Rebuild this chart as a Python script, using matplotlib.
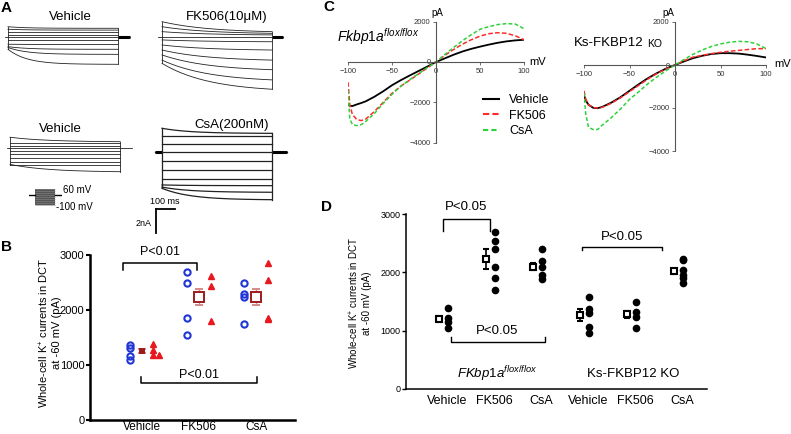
import numpy as np
import matplotlib
matplotlib.use('Agg')
import matplotlib.pyplot as plt
from matplotlib.lines import Line2D

plt.rcParams['font.family'] = ['Liberation Sans', 'DejaVu Sans']
plt.rcParams['mathtext.fontset'] = 'custom'
plt.rcParams['mathtext.rm'] = 'Liberation Sans'
plt.rcParams['mathtext.it'] = 'Liberation Sans:italic'
plt.rcParams['mathtext.bf'] = 'Liberation Sans:bold'

# ---- panel A: current traces (nA), value at step start / step end
veh1_start = [0.88, 0.67, 0.42, 0.19, -0.25, -0.58, -0.78, -0.85, -1.0]
veh1_end = [0.75, 0.6, 0.42, 0.19, -0.25, -0.6, -1.0, -1.42, -2.25]
fk_start = [1.3, 0.88, 0.47, -0.22, -0.64, -1.06, -1.47, -1.9, -2.17]
fk_end = [0.47, 0.33, 0.2, -0.37, -1.06, -1.9, -2.7, -3.55, -4.33]
veh2_start = [0.87, 0.37, 0.17, -0.28, -0.56, -0.89, -1.17, -1.44, -1.39]
veh2_end = [0.5, 0.37, 0.17, -0.28, -0.56, -0.89, -1.17, -1.44, -2.0]
csa_start = [2.0, 1.4, 0.7, -0.7, -1.44, -2.2, -2.72, -2.9, -3.0]
csa_end = [1.58, 1.4, 0.7, -0.7, -1.44, -2.2, -2.78, -3.33, -3.95]
step_voltages = [-100, -80, -60, -40, -20, 0, 20, 40, 60]

# ---- panel B
b_groups = ['Vehicle', 'FK506', 'CsA']
b_blue = [[1370, 1310, 1160, 1100], [2690, 2490, 1855, 1545], [2490, 2300, 2230, 1750]]
b_red = [[1380, 1270, 1180, 1190], [2620, 2440, 1800], [2850, 2545, 1850, 1830]]
b_mean = [1255, 2236, 2240]
b_sem = [30, 150, 150]

# ---- panel C: I-V curves (pA)
iv_mv = [-100, -98, -95, -90, -85, -80, -70, -60, -50, -40, -30, -20, -10,
         0, 10, 20, 30, 40, 50, 60, 70, 80, 90, 100]
flox_veh = [-2100, -2170, -2180, -2100, -2030, -1950, -1720, -1450, -1150, -900, -670, -450, -230,
            0, 180, 360, 520, 650, 760, 860, 950, 1020, 1070, 1100]
flox_fk = [-1000, -2100, -2600, -2850, -2900, -2830, -2450, -2000, -1550, -1200, -900, -600, -300,
           0, 330, 620, 880, 1100, 1280, 1400, 1450, 1420, 1300, 1100]
flox_csa = [-1400, -2800, -3100, -3150, -3100, -2950, -2550, -2050, -1600, -1200, -880, -580, -280,
            0, 370, 720, 1050, 1350, 1620, 1750, 1850, 1900, 1880, 1650]
ko_veh = [-1400, -1650, -1850, -1990, -2010, -1950, -1750, -1500, -1200, -900, -620, -380, -170,
          0, 170, 320, 430, 510, 550, 550, 530, 480, 420, 350]
ko_fk = [-1200, -1600, -1850, -1980, -2000, -1970, -1780, -1530, -1240, -950, -660, -400, -190,
         0, 200, 370, 450, 530, 590, 640, 680, 720, 760, 760]
ko_csa = [-1300, -2300, -2900, -3000, -3000, -2800, -2450, -2050, -1600, -1250, -880, -560, -270,
          0, 260, 500, 700, 860, 980, 1060, 1100, 1080, 980, 760]

# ---- panel D
d_groups = ['Vehicle', 'FK506', 'CsA', 'Vehicle', 'FK506', 'CsA']
d_dots = [[1390, 1210, 1150, 1040],
          [2700, 2545, 2395, 2100, 1900, 1700],
          [2395, 2200, 2100, 1955, 1880],
          [1575, 1365, 1300, 1070, 955],
          [1500, 1315, 1240, 1050],
          [2230, 2210, 2040, 1955, 1900, 1825]]
d_mean = [1195, 2225, 2100, 1270, 1280, 2015]
d_sem = [50, 170, 60, 100, 60, 50]

W, H = 791, 434
fig = plt.figure(figsize=(W / 100, H / 100), dpi=100)


def px_axes(x0, y0, x1, y1):
    return fig.add_axes([x0 / W, 1 - y1 / H, (x1 - x0) / W, (y1 - y0) / H])


def ftext(x, y, s, **kw):
    kw.setdefault('ha', 'center')
    kw.setdefault('va', 'center')
    fig.text(x / W, 1 - y / H, s, **kw)


# panel letters
for lab, x, y in [('A', 6, 8), ('B', 7, 247), ('C', 329, 7), ('D', 327, 207)]:
    ftext(x, y, lab, fontsize=11, fontweight='bold')

# ================= A =================
step_ms = 580
px_ms = 0.19
px_nA = 12.0


def trace_panel(t0, base, starts, ends, tau, ltail, rtail, thick_l, thick_r, lw):
    ax = px_axes(t0 - 40, base - 32, t0 + 140, base + 90)
    ax.set_xlim(-40 / px_ms, 140 / px_ms)
    ax.set_ylim(-90 / px_nA, 32 / px_nA)
    ax.axis('off')
    t = np.linspace(0, step_ms, 200)
    for s, e in zip(starts, ends):
        cur = s + (e - s) * (1 - np.exp(-t / tau)) / (1 - np.exp(-step_ms / tau))
        ax.plot(t, cur, color='#222', lw=lw)
    ax.plot([-ltail, step_ms + rtail], [0, 0], color='#222', lw=lw)
    if thick_l:
        ax.plot([-ltail, 0], [0, 0], color='k', lw=2.2, solid_capstyle='butt')
    if thick_r:
        ax.plot([step_ms, step_ms + rtail], [0, 0], color='k', lw=2.2, solid_capstyle='butt')
    ax.plot([0, 0], [min(starts), max(starts)], color='#222', lw=lw)
    ax.plot([step_ms, step_ms], [min(ends), max(ends)], color='#222', lw=lw)
    return ax


trace_panel(8, 37.3, veh1_start, veh1_end, 100, 16, 62, False, True, 0.6)
trace_panel(162, 37.3, fk_start, fk_end, 250, 21, 57, False, True, 0.6)
trace_panel(10, 147.7, veh2_start, veh2_end, 200, 16, 60, False, False, 0.6)
ax_csa = trace_panel(162, 152.3, csa_start, csa_end, 150, 37, 78, True, True, 0.9)

ftext(70, 17, 'Vehicle', fontsize=9.5)
ftext(227, 17, 'FK506(10μM)', fontsize=9.5)
ftext(60, 129, 'Vehicle', fontsize=9.5)
ftext(232, 125, 'CsA(200nM)', fontsize=9.5)

# scale bar: 100 ms / 2 nA
sb_t, sb_i = -32, -4.72
ax_csa.plot([sb_t, sb_t + 100], [sb_i, sb_i], color='k', lw=1.3, clip_on=False)
ax_csa.plot([sb_t, sb_t], [sb_i, sb_i - 2], color='k', lw=1.3, clip_on=False)
ftext(165, 202, '100 ms', fontsize=6.5)
ftext(144, 223, '2nA', fontsize=6.5)

# voltage protocol icon
ax_p = px_axes(29, 187, 62, 207)
ax_p.set_xlim(-174, 783)
ax_p.set_ylim(-120, 80)
ax_p.axis('off')
ax_p.fill_between([0, step_ms], min(step_voltages), max(step_voltages), color='#555', lw=0)
ax_p.hlines(step_voltages, 0, step_ms, color='#888', lw=0.4)
ax_p.plot([-174, 0], [0, 0], color='k', lw=1)
ax_p.plot([step_ms, 783], [0, 0], color='k', lw=1)
ftext(63, 190, '60 mV', fontsize=7, ha='left')
ftext(56, 207, '-100 mV', fontsize=7, ha='left')

# ================= B =================
axb = px_axes(90, 255, 295, 420)
cat_px = 57.0
axb.set_xlim((90 - 142) / cat_px, (295 - 142) / cat_px)
axb.set_ylim(0, 3000)
for sp in ['top', 'right']:
    axb.spines[sp].set_visible(False)
for sp in ['left', 'bottom']:
    axb.spines[sp].set_linewidth(1.8)
axb.set_yticks([0, 1000, 2000, 3000])
axb.tick_params(axis='y', labelsize=8, width=1.5, length=3, pad=1)
axb.set_xticks(range(len(b_groups)))
axb.set_xticklabels(b_groups, fontsize=8.5)
axb.tick_params(axis='x', length=0, pad=0.5)
red_dx = [[0.2, 0.2, 0.2, 0.3], [0.21, 0.21, 0.21], [0.21, 0.21, 0.21, 0.21]]
mean_ms = [3.5, 7, 7]
for i in range(len(b_groups)):
    axb.plot([i - 0.21] * len(b_blue[i]), b_blue[i], 'o', ms=4.5, mfc='none',
             mec='#1f35d6', mew=1.5, clip_on=False)
    axb.plot([i + d for d in red_dx[i]], b_red[i], '^', ms=5, color='#e8181f', clip_on=False)
    axb.errorbar(i, b_mean[i], yerr=b_sem[i], fmt='s', ms=mean_ms[i],
                 mfc='white' if i else '#9e1b1b', mec='#9e1b1b', mew=1.4,
                 ecolor='#d68a8a', elinewidth=1, capsize=3)


def bracket(ax, x0, x1, y, ytip, text, ty, fs, lw):
    ax.plot([x0, x0, x1, x1], [ytip, y, y, ytip], color='k', lw=lw, clip_on=False)
    ax.text((x0 + x1) / 2, ty, text, ha='center', va='center', fontsize=fs, clip_on=False)


bracket(axb, -0.33, 0.965, 2855, 2730, 'P<0.01', 3060, 9, 1.1)
axb.plot([-0.02, -0.02, 2.02, 2.02], [780, 673, 673, 780], color='k', lw=1.1)
axb.text(1.0, 820, 'P<0.01', ha='center', va='center', fontsize=9)
ftext(50, 333, 'Whole-cell K$^{+}$ currents in DCT\nat -60 mV (pA)', fontsize=8,
      rotation=90, multialignment='center', linespacing=1.1)

# ================= C =================


def iv_axes(x0, x1, ytop, ybot, veh, fk, csa):
    ax = px_axes(x0, ytop, x1, ybot)
    ax.set_xlim(-100, 100)
    ax.set_ylim(-4000, 2000)
    ax.spines['left'].set_position(('data', 0))
    ax.spines['bottom'].set_position(('data', 0))
    ax.spines['top'].set_visible(False)
    ax.spines['right'].set_visible(False)
    for sp in ['left', 'bottom']:
        ax.spines[sp].set_color('#555')
        ax.spines[sp].set_linewidth(0.8)
    ax.patch.set_visible(False)
    ax.set_xticks([-100, -50, 0, 50, 100])
    ax.set_yticks([-4000, -2000, 0, 2000])
    ax.tick_params(labelsize=5.5, length=2.5, width=0.6, colors='#555',
                   labelcolor='#333', pad=1.5)
    ax.plot(iv_mv, veh, color='black', lw=1.3)
    ax.plot(iv_mv, fk, color='#ff2a2a', lw=1.1, dashes=(3, 1.5))
    ax.plot(iv_mv, csa, color='#2ed13a', lw=1.1, dashes=(2.5, 1.5))
    return ax


iv_axes(348, 524, 21.6, 142.8, flox_veh, flox_fk, flox_csa)
iv_axes(584, 766, 22, 151, ko_veh, ko_fk, ko_csa)
ftext(437, 13, 'pA', fontsize=7)
ftext(538, 62, 'mV', fontsize=8)
ftext(668, 13, 'pA', fontsize=7)
ftext(783, 64, 'mV', fontsize=8)
ftext(337, 37, '$Fkbp1a^{flox/flox}$', fontsize=10, ha='left')
ftext(574, 43, 'Ks-FKBP12', fontsize=9.5, ha='left')
ftext(647, 44, 'KO', fontsize=7.5, ha='left')

handles = [Line2D([], [], color='black', lw=1.5),
           Line2D([], [], color='#ff2a2a', lw=1.5, dashes=(3, 1.5)),
           Line2D([], [], color='#2ed13a', lw=1.5, dashes=(2.5, 1.5))]
fig.legend(handles, ['Vehicle', 'FK506', 'CsA'], loc='upper left',
           bbox_to_anchor=(483 / W, 1 - 94 / H), frameon=False, fontsize=9,
           handlelength=1.3, handletextpad=0.8, labelspacing=0.3,
           borderpad=0, borderaxespad=0)

# ================= D =================
axd = px_axes(406, 214, 707, 389)
d_px = 47.0
axd.set_xlim((406 - 447) / d_px, (707 - 447) / d_px)
axd.set_ylim(0, 3000)
for sp in ['top', 'right']:
    axd.spines[sp].set_visible(False)
for sp in ['left', 'bottom']:
    axd.spines[sp].set_linewidth(1.1)
axd.set_yticks([0, 1000, 2000, 3000])
axd.tick_params(axis='y', labelsize=6.5, width=1, length=3, pad=1)
axd.set_xticks(range(len(d_groups)))
axd.set_xticklabels(d_groups, fontsize=9)
axd.tick_params(axis='x', length=0, pad=4)
for i in range(len(d_groups)):
    axd.plot([i + 0.02] * len(d_dots[i]), d_dots[i], 'o', ms=4.5, color='k')
    axd.errorbar(i - 0.18, d_mean[i], yerr=d_sem[i], fmt='s', ms=5, mfc='white',
                 mec='k', mew=1.5, ecolor='k', elinewidth=1.2, capsize=2.5)

bracket(axd, -0.085, 0.915, 2915, 2710, 'P<0.05', 3120, 9.5, 1.0)
bracket(axd, 2.87, 4.57, 2435, 2385, 'P<0.05', 2605, 9.5, 1.0)
axd.plot([0.085, 0.085, 2.085, 2.085], [890, 806, 806, 890], color='k', lw=1.0)
axd.text(1.06, 995, 'P<0.05', ha='center', va='center', fontsize=9.5)
axd.text(1.08, 257, '$FKbp1a^{flox/flox}$', ha='center', va='center', fontsize=9.5)
axd.text(3.96, 257, 'Ks-FKBP12 KO', ha='center', va='center', fontsize=9.5)
ftext(360, 303, 'Whole-cell K$^{+}$ currents in DCT\nat -60 mV (pA)', fontsize=7,
      rotation=90, multialignment='center', linespacing=1.1)

fig.savefig('out.png', dpi=100)
